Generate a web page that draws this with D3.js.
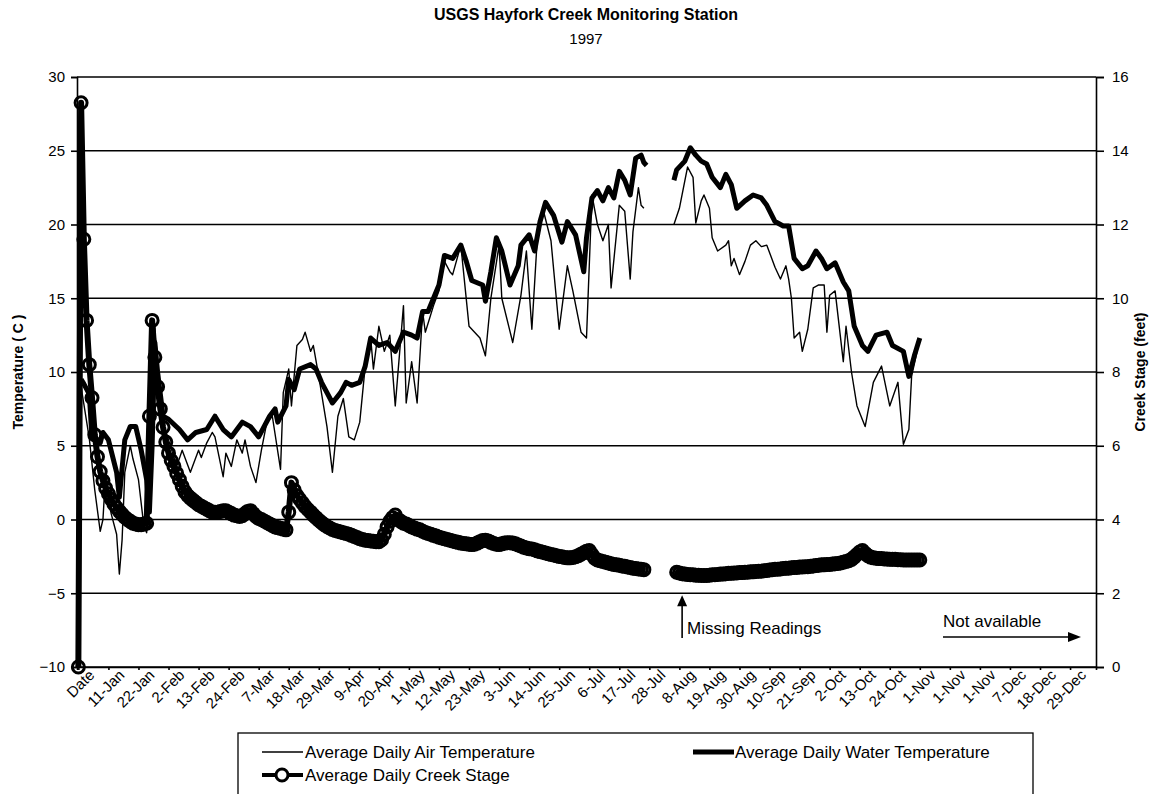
<!DOCTYPE html>
<html>
<head>
<meta charset="utf-8">
<script src="https://cdn.jsdelivr.net/npm/d3@7"></script>
<style>
body { margin: 0; background: #fff; }
svg { font-family: "Liberation Sans", Arial, sans-serif; }
</style>
</head>
<body>
<script>
// etichette dell'asse x, una ogni 11 righe del foglio
var xLabels = ["Date","11-Jan","22-Jan","2-Feb","13-Feb","24-Feb","7-Mar","18-Mar","29-Mar","9-Apr","20-Apr",
  "1-May","12-May","23-May","3-Jun","14-Jun","25-Jun","6-Jul","17-Jul","28-Jul","8-Aug","19-Aug","30-Aug",
  "10-Sep","21-Sep","2-Oct","13-Oct","24-Oct","1-Nov","1-Nov","1-Nov","7-Dec","18-Dec","29-Dec"];
var labelStep = 11;

var tempTicks = [-10, -5, 0, 5, 10, 15, 20, 25, 30];
var stageTicks = [0, 2, 4, 6, 8, 10, 12, 14, 16];

// [riga (giorno), gradi C] ; null = letture mancanti
var airTemp = [[1,9],[4,5.5],[6,2],[8,-0.8],[9,0],[10,3.2],[12,0.4],[14,-1],[15,-3.7],[16,-1.4],[17,3.2],[19,5],
  [20,4.1],[22,2.7],[24,-0.5],[25,-0.9],[26,2],[27,7],[28,13],[29,9],[31,6.5],[33,5.4],[36,3.6],[38,4.7],[41,3.2],
  [43,4.2],[44,4.7],[45,4.2],[47,5.2],[49,5.9],[50,5.6],[53,2.9],[54,4.5],[56,3.6],[58,5.4],[60,4.5],[61,5.4],
  [63,3.6],[65,2.5],[67,4.7],[69,6.6],[71,7],[74,3.4],[75,8.6],[77,10.2],[78,7.7],[80,11.8],[82,12.2],[83,12.7],
  [85,11.4],[86,11.8],[88,9.7],[91,6.3],[93,3.2],[95,7],[97,8.2],[99,5.6],[101,5.4],[103,6.6],[105,10.4],[107,12.3],
  [108,10.2],[110,13.1],[112,11.4],[114,12.5],[116,7.7],[119,14.5],[120,7.9],[122,10.7],[124,7.9],[126,14.1],
  [127,12.7],[130,14.5],[132,15.5],[134,17.5],[136,16.8],[137,16.6],[140,18.6],[143,13.1],[147,12.3],[149,11.1],
  [151,15],[154,18.6],[155,15],[159,12],[162,15.2],[164,18.2],[166,12.9],[168,19.1],[170,21.1],[173,18.9],
  [176,12.9],[179,17.2],[181,15.5],[184,12.7],[186,12.3],[188,22],[190,20],[192,18.9],[194,20],[195,15.7],
  [198,21.3],[200,20.9],[202,16.3],[203,19.5],[205,22.5],[206,21.3],[207,21.1],[212,null],
  [218,20],[220,21.1],[223,23.9],[225,23.2],[226,20.1],[228,21.6],[229,22],[231,21.1],[232,19.1],[234,18.2],
  [237,18.6],[238,18.9],[239,17.2],[240,17.7],[242,16.6],[244,17.5],[246,18.6],[248,18.9],[250,18.5],[252,18.6],
  [255,17.1],[257,16.3],[259,17.2],[260,16.3],[261,15],[262,12.3],[264,12.7],[265,11.4],[267,12.9],[269,15.7],
  [271,15.9],[273,15.9],[274,12.7],[275,15.2],[277,15.5],[280,10.7],[281,13.1],[283,10],[285,7.7],[288,6.3],
  [291,9.3],[294,10.4],[297,7.7],[300,9.3],[302,5.1],[304,6.1],[305,9.7],[307,11.4]];

var waterTemp = [[1,9.5],[2,9.2],[4,8.5],[5,5.5],[8,5.2],[9,5.9],[11,5.4],[14,3.2],[15,1.5],[17,5.4],[19,6.3],
  [21,6.3],[23,4.7],[25,2.7],[26,0.5],[27,5],[28,12],[29,10],[30,8.5],[31,7],[33,6.8],[37,6.1],[40,5.4],[43,5.9],
  [47,6.1],[50,7],[53,6.1],[56,5.6],[60,6.6],[63,6.3],[66,5.6],[70,7],[72,7.5],[73,6.6],[76,7.7],[77,9.5],[79,8.8],
  [81,10.2],[85,10.5],[87,10.2],[89,9.3],[91,8.6],[93,7.9],[96,8.6],[98,9.3],[100,9.1],[103,9.3],[105,10.4],
  [107,12.3],[110,11.8],[113,12],[116,11.4],[119,12.7],[122,12.5],[124,12.3],[126,14.1],[128,14.1],[130,15],
  [132,15.9],[134,17.9],[137,17.7],[140,18.6],[142,17.5],[144,16.2],[148,15.9],[149,14.8],[151,16.8],[153,19.1],
  [155,18.2],[158,15.9],[161,17.2],[162,18.6],[165,19.3],[167,18.2],[169,20.2],[171,21.5],[174,20.6],[177,18.8],
  [179,20.2],[182,19.3],[185,16.8],[186,19.1],[188,21.8],[190,22.3],[192,21.6],[194,22.5],[196,21.8],[198,23.6],
  [200,23],[202,22],[204,24.5],[206,24.7],[207,24.2],[208,24],[212,null],
  [218,23],[219,23.7],[222,24.3],[224,25.2],[226,24.7],[228,24.3],[230,24.1],[232,23.2],[235,22.5],[237,23.4],
  [239,22.7],[241,21.1],[244,21.6],[247,22],[250,21.8],[252,21.3],[255,20.2],[258,19.9],[260,19.9],[262,17.7],
  [265,17],[267,17.2],[270,18.2],[272,17.7],[274,17],[277,17.4],[280,16.1],[282,15.5],[284,13.1],[287,11.8],
  [289,11.4],[292,12.5],[296,12.7],[298,11.8],[302,11.4],[304,9.7],[306,11.1],[308,12.3]];

// livello del torrente (piedi), un valore al giorno
var stageStartA = 0;
var stageA = [0,15.3,11.6,9.4,8.2,7.3,6.3,5.7,5.3,5.05,4.85,4.7,4.55,4.42,4.32,4.22,4.14,4.06,4,3.95,
  3.9,3.88,3.86,3.86,3.88,3.9,6.8,9.4,8.4,7.6,7,6.5,6.1,5.8,5.6,5.44,5.25,5.08,4.9,4.75,
  4.65,4.58,4.52,4.46,4.4,4.36,4.32,4.28,4.24,4.2,4.2,4.2,4.22,4.24,4.24,4.2,4.16,4.12,4.1,4.08,
  4.1,4.16,4.22,4.24,4.16,4.08,4.03,4,3.96,3.92,3.88,3.84,3.8,3.78,3.76,3.74,3.72,4.2,5,4.8,
  4.65,4.55,4.45,4.35,4.27,4.2,4.12,4.05,3.98,3.92,3.86,3.81,3.77,3.73,3.7,3.68,3.66,3.64,3.62,3.6,
  3.57,3.54,3.51,3.48,3.46,3.44,3.43,3.42,3.41,3.4,3.4,3.45,3.6,3.8,3.95,4.05,4.12,4,3.95,3.9,
  3.88,3.84,3.8,3.77,3.74,3.72,3.68,3.65,3.62,3.6,3.57,3.55,3.52,3.5,3.48,3.46,3.44,3.42,3.4,3.38,
  3.36,3.35,3.34,3.33,3.32,3.33,3.36,3.4,3.43,3.44,3.42,3.38,3.35,3.33,3.32,3.34,3.36,3.37,3.37,3.36,
  3.34,3.31,3.28,3.25,3.23,3.21,3.2,3.18,3.15,3.13,3.11,3.09,3.07,3.05,3.04,3.02,3,2.99,2.97,2.96,
  2.96,2.97,2.99,3.02,3.06,3.1,3.14,3.16,3.05,2.95,2.9,2.88,2.86,2.84,2.82,2.8,2.78,2.77,2.76,2.74,
  2.73,2.71,2.7,2.68,2.67,2.66,2.65,2.64];
var stageStartB = 219;
var stageB = [2.57,2.55,2.53,2.52,2.51,2.5,2.5,2.49,2.49,2.48,2.48,2.48,2.49,2.5,2.5,2.51,2.52,2.52,2.53,2.54,
  2.54,2.55,2.55,2.56,2.56,2.57,2.57,2.58,2.58,2.59,2.6,2.6,2.61,2.62,2.63,2.64,2.65,2.65,2.66,2.67,
  2.68,2.68,2.69,2.7,2.7,2.71,2.71,2.72,2.72,2.73,2.74,2.75,2.76,2.77,2.77,2.78,2.78,2.79,2.8,2.81,
  2.82,2.84,2.86,2.88,2.92,2.98,3.05,3.12,3.16,3.08,3.02,2.98,2.96,2.95,2.94,2.94,2.93,2.93,2.92,2.92,
  2.92,2.91,2.91,2.9,2.9,2.9,2.9,2.9,2.9,2.9];

var width = 1154, height = 794;
// attenzione: "top" è già una proprietà di window
var plotLeft = 77, plotRight = 1096, plotTop = 77, plotBottom = 667;

var svg = d3.select("body").append("svg")
  .attr("width", width)
  .attr("height", height);

var x = d3.scaleLinear().domain([-0.5, 372.5]).range([plotLeft, plotRight]);
var yT = d3.scaleLinear().domain([-10, 30]).range([plotBottom, plotTop]);
var yS = d3.scaleLinear().domain([0, 16]).range([plotBottom, plotTop]);

// titolo
svg.append("text").attr("x", 586).attr("y", 20).attr("text-anchor", "middle")
  .attr("font-size", 16).attr("font-weight", "bold").text("USGS Hayfork Creek Monitoring Station");
svg.append("text").attr("x", 586).attr("y", 44).attr("text-anchor", "middle")
  .attr("font-size", 15).text("1997");

// griglia
svg.append("g").selectAll("line").data(tempTicks).enter().append("line")
  .attr("x1", plotLeft).attr("x2", plotRight)
  .attr("y1", function(d) { return yT(d); })
  .attr("y2", function(d) { return yT(d); })
  .attr("stroke", "#000").attr("stroke-width", 1.6);

// assi
var axisL = svg.append("g").attr("transform", "translate(" + plotLeft + ",0)")
  .call(d3.axisLeft(yT).tickValues(tempTicks).tickSize(6).tickPadding(6));
var axisR = svg.append("g").attr("transform", "translate(" + plotRight + ",0)")
  .call(d3.axisRight(yS).tickValues(stageTicks).tickSize(8).tickPadding(8));
var axisB = svg.append("g").attr("transform", "translate(0," + plotBottom + ")")
  .call(d3.axisBottom(x).tickValues(d3.range(0, xLabels.length * labelStep, labelStep)).tickSize(3).tickFormat(""));

[axisL, axisR, axisB].forEach(function(a) {
  a.selectAll("path").attr("stroke", "#000").attr("stroke-width", 1.6);
  a.selectAll("line").attr("stroke", "#000").attr("stroke-width", 1.6);
  a.selectAll("text").attr("font-size", 15).attr("font-family", "Liberation Sans, Arial, sans-serif").attr("fill", "#000");
});

svg.append("g").selectAll("text").data(xLabels).enter().append("text")
  .attr("transform", function(d, i) {
    return "translate(" + (x(i * labelStep) + 17) + "," + (plotBottom + 9) + ") rotate(-45)";
  })
  .attr("text-anchor", "end")
  .attr("font-size", 15)
  .text(function(d) { return d; });

// titoli assi
svg.append("text").attr("transform", "translate(23," + ((plotTop + plotBottom) / 2) + ") rotate(-90)")
  .attr("text-anchor", "middle").attr("font-size", 14).attr("font-weight", "bold").text("Temperature ( C )");
svg.append("text").attr("transform", "translate(1145," + ((plotTop + plotBottom) / 2) + ") rotate(-90)")
  .attr("text-anchor", "middle").attr("font-size", 14).attr("font-weight", "bold").text("Creek Stage (feet)");

// serie
var lineT = d3.line()
  .defined(function(d) { return d[1] !== null; })
  .x(function(d) { return x(d[0]); })
  .y(function(d) { return yT(d[1]); });

svg.append("path").attr("d", lineT(airTemp))
  .attr("fill", "none").attr("stroke", "#000").attr("stroke-width", 1.4).attr("stroke-linejoin", "round");
svg.append("path").attr("d", lineT(waterTemp))
  .attr("fill", "none").attr("stroke", "#000").attr("stroke-width", 5).attr("stroke-linejoin", "round");

function stagePoints(start, vals) {
  return vals.map(function(v, i) { return [start + i, v]; });
}
var stageSegs = [stagePoints(stageStartA, stageA), stagePoints(stageStartB, stageB)];
var lineS = d3.line()
  .x(function(d) { return x(d[0]); })
  .y(function(d) { return yS(d[1]); });

stageSegs.forEach(function(seg) {
  svg.append("path").attr("d", lineS(seg))
    .attr("fill", "none").attr("stroke", "#000").attr("stroke-width", 6).attr("stroke-linejoin", "round");
  svg.append("g").selectAll("circle").data(seg).enter().append("circle")
    .attr("cx", function(d) { return x(d[0]); })
    .attr("cy", function(d) { return yS(d[1]); })
    .attr("r", 6)
    .attr("fill", "none").attr("stroke", "#000").attr("stroke-width", 3);
});

// note
var missX = x(221);
svg.append("line").attr("x1", missX).attr("x2", missX).attr("y1", 638).attr("y2", yT(-5.5))
  .attr("stroke", "#000").attr("stroke-width", 1.6);
svg.append("path").attr("d", "M" + missX + "," + (yT(-5) + 2) + " l-5,11 l10,0 z").attr("fill", "#000");
svg.append("text").attr("x", missX + 5).attr("y", 634).attr("font-size", 17).text("Missing Readings");

svg.append("text").attr("x", 943).attr("y", 627).attr("font-size", 17).text("Not available");
svg.append("line").attr("x1", 943).attr("x2", 1070).attr("y1", 637).attr("y2", 637)
  .attr("stroke", "#000").attr("stroke-width", 1.6);
svg.append("path").attr("d", "M1081,637 l-13,-5 l0,10 z").attr("fill", "#000");

// legenda
var leg = svg.append("g");
leg.append("rect").attr("x", 238).attr("y", 733).attr("width", 795).attr("height", 80)
  .attr("fill", "#fff").attr("stroke", "#000").attr("stroke-width", 1.3);
leg.append("line").attr("x1", 262).attr("x2", 303).attr("y1", 752).attr("y2", 752)
  .attr("stroke", "#000").attr("stroke-width", 1.4);
leg.append("text").attr("x", 305).attr("y", 758).attr("font-size", 17).text("Average Daily Air Temperature");
leg.append("line").attr("x1", 693).attr("x2", 734).attr("y1", 752).attr("y2", 752)
  .attr("stroke", "#000").attr("stroke-width", 5);
leg.append("text").attr("x", 735).attr("y", 758).attr("font-size", 17).text("Average Daily Water Temperature");
leg.append("line").attr("x1", 262).attr("x2", 303).attr("y1", 775).attr("y2", 775)
  .attr("stroke", "#000").attr("stroke-width", 4);
leg.append("circle").attr("cx", 282).attr("cy", 775).attr("r", 6)
  .attr("fill", "#fff").attr("stroke", "#000").attr("stroke-width", 3);
leg.append("text").attr("x", 305).attr("y", 781).attr("font-size", 17).text("Average Daily Creek Stage");
</script>
</body>
</html>
